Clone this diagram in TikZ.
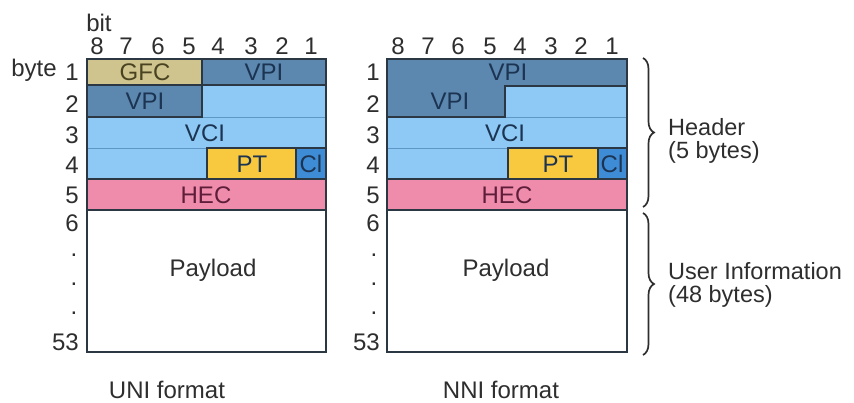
\documentclass[tikz,border=0pt]{standalone}
\usepackage{fontspec}
\setmainfont{Liberation Sans}
\usetikzlibrary{decorations.pathreplacing}

\definecolor{gfcfill}{HTML}{CFC48E}
\definecolor{vpifill}{HTML}{5C88B0}
\definecolor{vcifill}{HTML}{8DC9F4}
\definecolor{ptfill}{HTML}{F8C83E}
\definecolor{clfill}{HTML}{3E8CD6}
\definecolor{hecfill}{HTML}{F08CAB}
\definecolor{edge}{HTML}{2B3844}
\definecolor{sepline}{HTML}{5E97C6}
\definecolor{inkblue}{HTML}{1C3452}
\definecolor{inkred}{HTML}{5E1E3A}
\definecolor{inkolive}{HTML}{4A4322}
\definecolor{inkgray}{HTML}{2E2E2E}

\tikzset{
  field/.style={draw=edge, line width=1.6pt},
  sep/.style={draw=sepline, line width=0.9pt},
  txt/.style={inner sep=0pt, font=\fontsize{24}{24}\selectfont},
  flabel/.style={txt, text=inkblue},
  num/.style={txt, text=inkgray},
  side/.style={txt, text=inkgray, align=left, anchor=west, font=\fontsize{23.5}{23}\selectfont},
  curly/.style={draw=inkgray, line width=1.7pt, decorate,
    decoration={brace, amplitude=11pt}},
}

\begin{document}
\begin{tikzpicture}[x=1pt, y=-1pt]
\useasboundingbox (0,0) rectangle (854,403);
\fill[white] (0,0) rectangle (854,403);

% ---------------- UNI cell ----------------
\fill[vcifill] (87,59) rectangle (326,179);
\draw[sep] (202,117) -- (326,117);
\draw[sep] (87,148) -- (207,148);
\draw[field, fill=gfcfill] (87,59) rectangle (202,85);
\draw[field, fill=vpifill] (202,59) rectangle (326,85);
\draw[field, fill=vpifill] (87,85) rectangle (202,117);
\draw[field, fill=ptfill] (207,148) rectangle (296,179);
\draw[field, fill=clfill] (296,148) rectangle (326,179);
\draw[field, fill=hecfill] (87,179) rectangle (326,210);
\draw[field, fill=white] (87,210) rectangle (326,352);
\draw[field] (87,59) rectangle (326,352);

\node[flabel, text=inkolive] (ugfc) at (145,72) {GFC};
\node[flabel] (uvpia) at (264,72) {VPI};
\node[flabel] (uvpib) at (145,101) {VPI};
\node[flabel] (uvci) at (205,133) {VCI};
\node[flabel] (upt) at (252,164) {PT};
\node[flabel] (ucl) at (311,164) {Cl};
\node[flabel, text=inkred] (uhec) at (206,195) {HEC};
\node[num] (upay) at (213,270) {Payload};

% bit numbers
\node[num] (bitlbl) at (99,23) {bit};
\foreach \b/\x in {8/97,7/126,6/158,5/189,4/218,3/251,2/282,1/311}
  \node[num] (ub\b) at (\x,46) {\b};
% byte numbers
\node[num] (bytelbl) at (34,70) {byte};
\foreach \r/\y in {1/72,2/104,3/135,4/165,5/195,6/223,53/342}
  \node[num, anchor=east] (ur\r) at (79,\y) {\r};
\foreach \i/\y in {1/253,2/282,3/311}
  \node[num, anchor=base] (udot\i) at (74,\y+4) {.};
\node[num] (uniname) at (167,390) {UNI format};

% ---------------- NNI cell ----------------
\fill[vcifill] (387,59) rectangle (627,179);
\draw[sep] (505,117) -- (627,117);
\draw[sep] (387,148) -- (508,148);
\draw[field, fill=vpifill] (387,59) -- (627,59) -- (627,86) -- (505,86)
  -- (505,117) -- (387,117) -- cycle;
\draw[field, fill=ptfill] (508,148) rectangle (598,179);
\draw[field, fill=clfill] (598,148) rectangle (627,179);
\draw[field, fill=hecfill] (387,179) rectangle (627,210);
\draw[field, fill=white] (387,210) rectangle (627,352);
\draw[field] (387,59) rectangle (627,352);

\node[flabel] (nvpia) at (508,72) {VPI};
\node[flabel] (nvpib) at (450,101) {VPI};
\node[flabel] (nvci) at (505,133) {VCI};
\node[flabel] (npt) at (558,164) {PT};
\node[flabel] (ncl) at (612,164) {Cl};
\node[flabel, text=inkred] (nhec) at (507,195) {HEC};
\node[num] (npay) at (506,270) {Payload};

\foreach \b/\x in {8/398,7/428,6/458,5/490,4/520,3/551,2/581,1/612}
  \node[num] (nb\b) at (\x,46) {\b};
\foreach \r/\y in {1/72,2/104,3/135,4/165,5/195,6/223,53/342}
  \node[num, anchor=east] (nr\r) at (380,\y) {\r};
\foreach \i/\y in {1/253,2/282,3/311}
  \node[num, anchor=base] (ndot\i) at (374,\y+4) {.};
\node[num] (nniname) at (501,390) {NNI format};

% ---------------- braces ----------------
\coordinate (hdtop) at (643,58);
\coordinate (hdbot) at (643,207);
\coordinate (uitop) at (643,213);
\coordinate (uibot) at (643,355);
\draw[curly] (hdtop) -- (hdbot);
\draw[curly] (uitop) -- (uibot);
\node[side] (hdr) at (668,141) {Header\\(5 bytes)};
\node[side] (uinf) at (668,285) {User Information\\(48 bytes)};
\end{tikzpicture}
\end{document}
